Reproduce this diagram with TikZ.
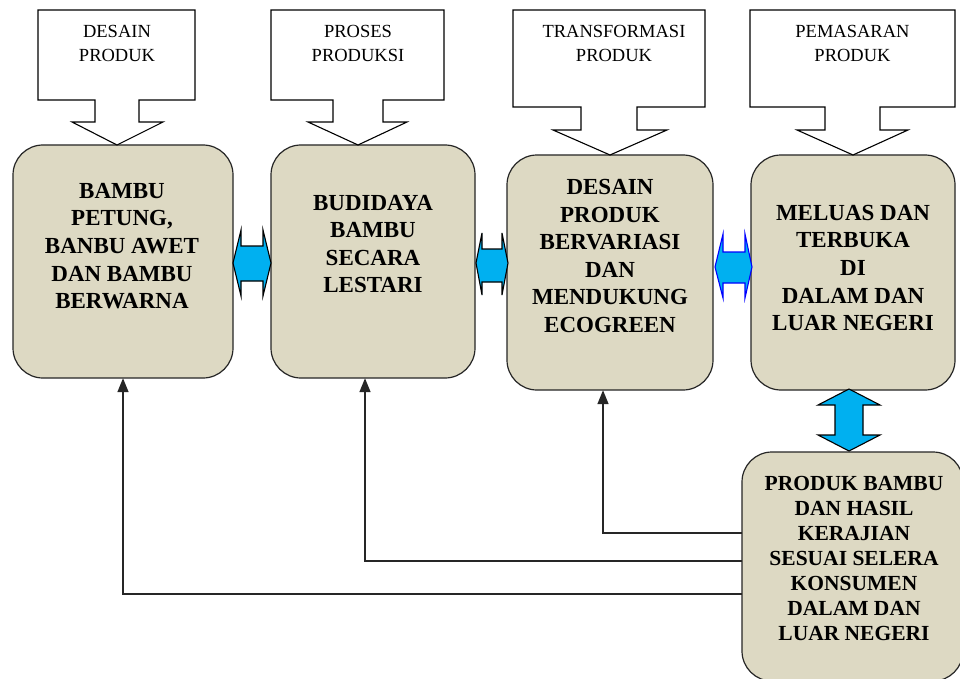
\documentclass[tikz,border=0pt]{standalone}
\usepackage{fontspec}
\setmainfont{Liberation Serif}
\usetikzlibrary{arrows.meta}
\definecolor{boxfill}{RGB}{221,217,195}
\definecolor{arrfill}{RGB}{0,176,240}
\tikzset{
  mainbox/.style={draw=black!85, line width=1.2pt, fill=boxfill, rounded corners=30pt},
  boxtext/.style={align=center, font=\fontsize{23}{27.6}\selectfont\bfseries, inner sep=0pt},
  boxtextsmall/.style={align=center, font=\fontsize{21.5}{25}\selectfont\bfseries, inner sep=0pt},
  calloutshape/.style={draw=black, line width=1.1pt, fill=white},
  callouttext/.style={align=center, font=\fontsize{18.5}{24}\selectfont, inner sep=0pt},
  dblarrow/.style={draw=black, line width=1.1pt, fill=arrfill},
  dblarrowblue/.style={draw=blue, line width=1.1pt, fill=arrfill},
  feedback/.style={draw=black!85, line width=1.5pt, -{Triangle[length=14pt,width=11pt]}}
}
\begin{document}
\begin{tikzpicture}[x=1pt,y=-1pt]
\useasboundingbox[fill=white] (0,0) rectangle (960,679);

% main boxes
\path[mainbox] (13,145) rectangle (233,378);
\node[minimum width=220pt, minimum height=233pt, inner sep=0pt] (b1) at (123,261.5) {};
\path[mainbox] (271,145) rectangle (475,378);
\node[minimum width=204pt, minimum height=233pt, inner sep=0pt] (b2) at (373,261.5) {};
\path[mainbox] (507,155) rectangle (713,390);
\node[minimum width=206pt, minimum height=235pt, inner sep=0pt] (b3) at (610,272.5) {};
\path[mainbox] (751,155) rectangle (955,390);
\node[minimum width=204pt, minimum height=235pt, inner sep=0pt] (b4) at (853,272.5) {};
\path[mainbox] (742,452) rectangle (963,681);
\node[minimum width=221pt, minimum height=229pt, inner sep=0pt] (b5) at (852.5,566.5) {};

% box texts
\node[boxtext] (t1) at (122,246) {BAMBU\\PETUNG,\\BANBU AWET\\DAN BAMBU\\BERWARNA};
\node[boxtext] (t2) at (373,244) {BUDIDAYA\\BAMBU\\SECARA\\LESTARI};
\node[boxtext] (t3) at (610,256) {DESAIN\\PRODUK\\BERVARIASI\\DAN\\MENDUKUNG\\ECOGREEN};
\node[boxtext] (t4) at (853,268) {MELUAS DAN\\TERBUKA\\DI\\DALAM DAN\\LUAR NEGERI};
\node[boxtextsmall] (t5) at (854,558) {PRODUK BAMBU\\DAN HASIL\\KERAJIAN\\SESUAI SELERA\\KONSUMEN\\DALAM DAN\\LUAR NEGERI};

% callouts
\path[calloutshape] (38,10) -- (195,10) -- (195,100) -- (139,100) -- (139,122) -- (163,122)
  -- (117,145) -- (72,122) -- (95,122) -- (95,100) -- (38,100) -- cycle;
\node[callouttext] (c1) at (117,43) {DESAIN\\PRODUK};
\path[calloutshape] (271,10) -- (444,10) -- (444,100) -- (383,100) -- (383,122) -- (407,122)
  -- (358,145) -- (308,122) -- (333,122) -- (333,100) -- (271,100) -- cycle;
\node[callouttext] (c2) at (358,43) {PROSES\\PRODUKSI};
\path[calloutshape] (513,10) -- (705,10) -- (705,107) -- (637,107) -- (637,130) -- (667,130)
  -- (610,155) -- (553,130) -- (581,130) -- (581,107) -- (513,107) -- cycle;
\node[callouttext] (c3) at (614,43) {TRANSFORMASI\\PRODUK};
\path[calloutshape] (750,10) -- (955,10) -- (955,107) -- (880,107) -- (880,130) -- (908,130)
  -- (853,155) -- (797,130) -- (825,130) -- (825,107) -- (750,107) -- cycle;
\node[callouttext] (c4) at (852.5,43) {PEMASARAN\\PRODUK};

% double arrows
\path[dblarrow] (233,263) -- (241,230) -- (241,246) -- (263,246) -- (263,230) -- (271,263)
  -- (263,296) -- (263,281) -- (241,281) -- (241,296) -- cycle;
\path[dblarrow] (476,263) -- (482,233) -- (482,249) -- (502,249) -- (502,233) -- (508,263)
  -- (502,295) -- (502,282) -- (482,282) -- (482,295) -- cycle;
\path[dblarrowblue] (715,267) -- (723,234) -- (723,252) -- (745,252) -- (745,234) -- (752,267)
  -- (745,298) -- (745,283) -- (723,283) -- (723,298) -- cycle;
\path[dblarrow] (849,389) -- (880,405) -- (863,405) -- (863,435) -- (880,435) -- (849,451)
  -- (818,435) -- (835,435) -- (835,405) -- (818,405) -- cycle;

% feedback connectors
\coordinate (f3) at (742,533);
\coordinate (f2) at (742,561);
\coordinate (f1) at (742,594);
\draw[feedback] (f3) -| ([xshift=-7pt]b3.south);
\draw[feedback] (f2) -| ([xshift=-8pt]b2.south);
\draw[feedback] (f1) -| (b1.south);
\end{tikzpicture}
\end{document}
